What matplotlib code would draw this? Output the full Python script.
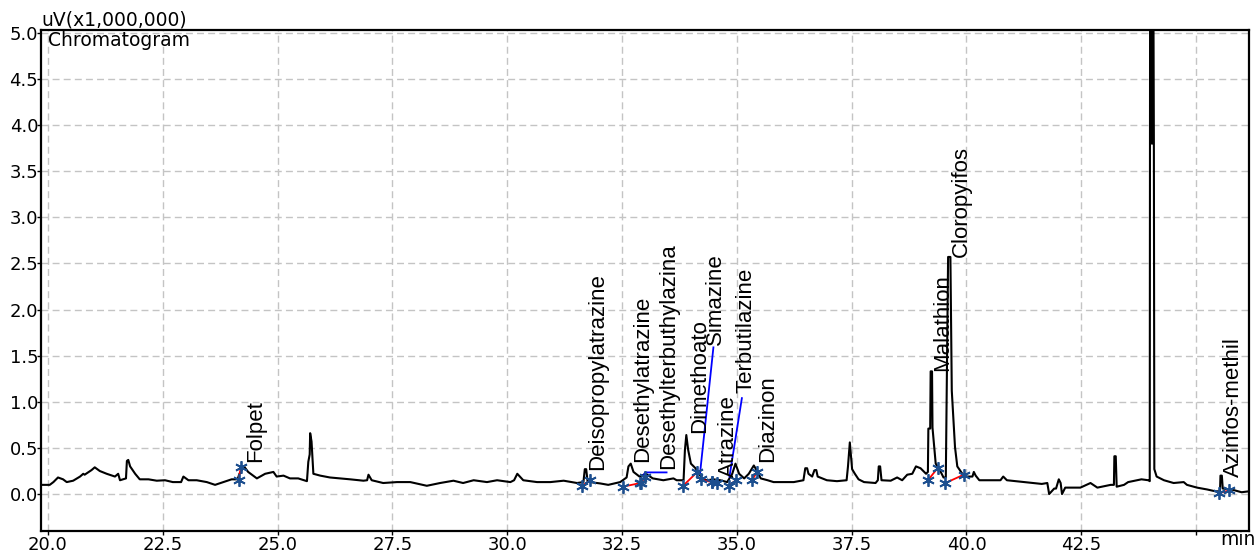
import matplotlib
matplotlib.use("Agg")
import matplotlib.pyplot as plt
from matplotlib.ticker import MultipleLocator

# ---------- detector trace (min, uV x1e6) ----------
time_min = [
    19.85, 20.04, 20.12, 20.22, 20.33, 20.41, 20.55, 20.70, 20.77, 20.80,
    20.95, 21.02, 21.13, 21.28, 21.46, 21.53, 21.57, 21.70, 21.72, 21.75,
    21.79, 21.90, 22.00, 22.19, 22.37, 22.55, 22.72, 22.90, 22.95, 23.06,
    23.24, 23.46, 23.64, 23.82, 24.00, 24.13, 24.17, 24.27, 24.36, 24.55,
    24.73, 24.91, 24.98, 25.13, 25.27, 25.45, 25.64, 25.67, 25.70, 25.71,
    25.74, 25.76, 25.78, 25.93, 26.14, 26.36, 26.58, 26.87, 26.95, 26.98,
    27.05, 27.30, 27.60, 27.89, 28.25, 28.54, 28.83, 29.04, 29.27, 29.56,
    29.78, 30.07, 30.15, 30.22, 30.35, 30.65, 30.94, 31.23, 31.52, 31.66,
    31.69, 31.72, 31.75, 31.80, 32.03, 32.20, 32.46, 32.60, 32.64, 32.69,
    32.75, 32.88, 33.02, 33.17, 33.40, 33.62, 33.69, 33.84, 33.87, 33.90,
    33.94, 34.00, 34.10, 34.18, 34.24, 34.35, 34.49, 34.64, 34.79, 34.90,
    34.97, 35.05, 35.16, 35.26, 35.37, 35.43, 35.52, 35.67, 35.80, 36.24,
    36.45, 36.49, 36.53, 36.56, 36.64, 36.69, 36.73, 36.76, 36.96, 37.18,
    37.39, 37.42, 37.46, 37.51, 37.57, 37.65, 37.77, 38.02, 38.07, 38.09,
    38.12, 38.15, 38.35, 38.49, 38.60, 38.71, 38.82, 38.90, 39.00, 39.12,
    39.16, 39.17, 39.21, 39.22, 39.25, 39.26, 39.33, 39.42, 39.50, 39.55,
    39.57, 39.60, 39.65, 39.68, 39.75, 39.80, 39.91, 40.00, 40.13, 40.16,
    40.20, 40.28, 40.74, 40.80, 40.88, 41.25, 41.64, 41.76, 41.80, 41.91,
    41.95, 42.01, 42.05, 42.08, 42.15, 42.48, 42.70, 42.85, 43.14, 43.21,
    43.22, 43.25, 43.27, 43.43, 43.52, 43.67, 43.81, 43.96, 43.99, 44.00,
    44.02, 44.02, 44.06, 44.06, 44.08, 44.09, 44.14, 44.30, 44.51, 44.73,
    44.80, 45.02, 45.24, 45.42, 45.52, 45.53, 45.56, 45.58, 45.77, 45.99,
    46.15,
]
signal = [
    0.10, 0.10, 0.13, 0.18, 0.16, 0.13, 0.145, 0.19, 0.22, 0.21,
    0.26, 0.29, 0.25, 0.22, 0.19, 0.22, 0.15, 0.17, 0.36, 0.37,
    0.30, 0.22, 0.16, 0.16, 0.145, 0.15, 0.13, 0.13, 0.19, 0.15,
    0.15, 0.13, 0.10, 0.13, 0.16, 0.16, 0.22, 0.30, 0.24, 0.17,
    0.22, 0.24, 0.19, 0.20, 0.17, 0.17, 0.14, 0.35, 0.43, 0.66,
    0.57, 0.40, 0.22, 0.20, 0.18, 0.17, 0.16, 0.145, 0.15, 0.21,
    0.15, 0.12, 0.13, 0.13, 0.09, 0.12, 0.145, 0.12, 0.15, 0.13,
    0.15, 0.13, 0.15, 0.22, 0.15, 0.13, 0.13, 0.145, 0.12, 0.13,
    0.27, 0.27, 0.14, 0.13, 0.115, 0.10, 0.13, 0.18, 0.30, 0.33,
    0.24, 0.19, 0.22, 0.17, 0.15, 0.17, 0.15, 0.15, 0.48, 0.64,
    0.48, 0.33, 0.28, 0.22, 0.17, 0.15, 0.16, 0.15, 0.13, 0.22,
    0.33, 0.22, 0.17, 0.22, 0.31, 0.26, 0.17, 0.15, 0.13, 0.13,
    0.15, 0.28, 0.28, 0.22, 0.19, 0.26, 0.26, 0.19, 0.15, 0.14,
    0.15, 0.30, 0.56, 0.27, 0.22, 0.16, 0.13, 0.12, 0.15, 0.30,
    0.30, 0.15, 0.145, 0.18, 0.15, 0.21, 0.22, 0.30, 0.28, 0.22,
    0.24, 0.71, 0.71, 1.33, 1.33, 0.72, 0.33, 0.26, 0.18, 0.18,
    1.11, 2.57, 2.57, 1.12, 0.51, 0.30, 0.22, 0.19, 0.19, 0.24,
    0.20, 0.15, 0.15, 0.19, 0.15, 0.13, 0.11, 0.12, 0.00, 0.06,
    0.06, 0.16, 0.12, 0.00, 0.07, 0.07, 0.12, 0.07, 0.10, 0.10,
    0.41, 0.41, 0.08, 0.10, 0.13, 0.145, 0.16, 0.15, 0.14, 7.00,
    7.00, 3.80, 3.80, 7.00, 3.80, 0.27, 0.19, 0.15, 0.12, 0.13,
    0.10, 0.07, 0.05, 0.03, 0.03, 0.20, 0.20, 0.06, 0.05, 0.02,
    0.03,
]

# ---------- identified compounds: label anchor (min, uV) ----------
compounds = [
    "Folpet", "Deisopropylatrazine", "Desethylatrazine",
    "Desethylterbuthylazina", "Dimethoato", "Simazine", "Atrazine",
    "Terbutilazine", "Diazinon", "Malathion", "Cloropyifos", "Azinfos-methil",
]
label_t = [24.53, 31.96, 32.94, 33.51, 34.18, 34.53, 34.81, 35.19, 35.66, 39.48, 39.89, 45.82]
label_v = [0.35, 0.26, 0.35, 0.27, 0.66, 1.62, 0.18, 1.10, 0.35, 1.33, 2.57, 0.19]

# integration start / end points of each peak
peak_start_t = [24.15, 31.63, 32.52, 32.92, 33.83, 34.22, 34.45, 34.82, 35.33, 39.16, 39.54, 45.50]
peak_start_v = [0.15, 0.09, 0.08, 0.12, 0.09, 0.16, 0.13, 0.09, 0.15, 0.15, 0.12, 0.01]
peak_end_t = [24.20, 31.81, 32.90, 33.00, 34.14, 34.45, 34.56, 34.98, 35.44, 39.37, 39.94, 45.72]
peak_end_v = [0.29, 0.15, 0.12, 0.19, 0.24, 0.13, 0.12, 0.15, 0.24, 0.28, 0.21, 0.04]

# leader lines from label to peak
leader_t = [[34.49, 34.20], [35.11, 34.84], [33.47, 33.00, 32.97]]
leader_v = [[1.59, 0.23], [1.04, 0.19], [0.235, 0.235, 0.20]]

x_ticks = [20.0, 22.5, 25.0, 27.5, 30.0, 32.5, 35.0, 37.5, 40.0, 42.5, 45.0]
x_tick_labels = ["20.0", "22.5", "25.0", "27.5", "30.0", "32.5", "35.0", "37.5", "40.0", "42.5", ""]

# ---------- figure ----------
plt.rcParams["font.family"] = ["DejaVu Sans"]
fig = plt.figure(figsize=(12.58, 5.53), dpi=100)
ax = fig.add_axes([0.0326, 0.0398, 0.9602, 0.906])

ax.set_xlim(19.85, 46.15)
ax.set_ylim(-0.40, 5.03)
ax.set_xticks(x_ticks)
ax.set_xticklabels(x_tick_labels)
ax.yaxis.set_major_locator(MultipleLocator(0.5))
ax.yaxis.set_major_formatter(plt.FuncFormatter(lambda v, _p: f"{v:.1f}"))
ax.grid(True, color="#c4c4c4", linestyle=(0, (5, 3)), linewidth=1.0)
ax.set_axisbelow(True)
for s in ax.spines.values():
    s.set_linewidth(1.6)
    s.set_color("black")
ax.tick_params(axis="both", direction="out", length=3, width=1, labelsize=13, colors="black")
ax.tick_params(axis="y", pad=-1)
ax.tick_params(axis="x", pad=0.5)

ax.plot(time_min, signal, color="black", linewidth=1.5, zorder=3)

# red baselines and blue peak markers
for t0, v0, t1, v1 in zip(peak_start_t, peak_start_v, peak_end_t, peak_end_v):
    ax.plot([t0, t1], [v0, v1], color="red", linewidth=1.3, zorder=4)
ax.plot(peak_start_t + peak_end_t, peak_start_v + peak_end_v, linestyle="none",
        marker=(6, 2, 0), markersize=9, markeredgewidth=1.3, color="#1d4f8f", zorder=5)

for lt, lv in zip(leader_t, leader_v):
    ax.plot(lt, lv, color="#0000ff", linewidth=1.3, zorder=4)

for name, t, v in zip(compounds, label_t, label_v):
    ax.text(t, v, name, rotation=90, ha="center", va="bottom", fontsize=16,
            family=["Liberation Sans Narrow", "Liberation Sans"], zorder=6)

ax.text(0.0, 1.0, "uV(x1,000,000)", transform=ax.transAxes, ha="left", va="bottom", fontsize=13.5)
ax.text(0.006, 0.997, "Chromatogram", transform=ax.transAxes, ha="left", va="top", fontsize=13.5)
fig.text(0.998, 0.008, "min", ha="right", va="bottom", fontsize=13.5)

fig.savefig("out.png", dpi=100)
